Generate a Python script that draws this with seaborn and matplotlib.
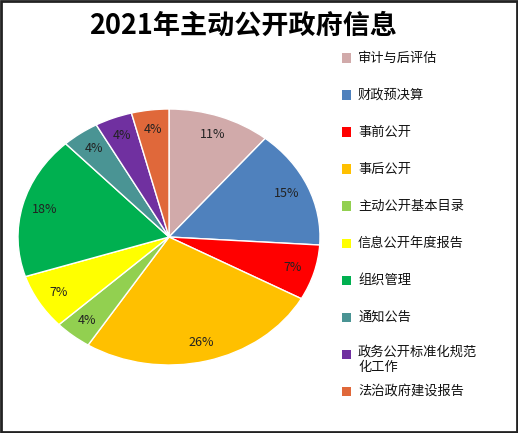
import matplotlib
matplotlib.use('Agg')
import matplotlib.pyplot as plt
import seaborn as sns
from matplotlib.patches import Rectangle

# Data
categories = ['审计与后评估', '财政预决算', '事前公开', '事后公开', '主动公开基本目录',
              '信息公开年度报告', '组织管理', '通知公告', '政务公开标准化规范\n化工作',
              '法治政府建设报告']
shares = [11, 15, 7, 26, 4, 7, 18, 4, 4, 4]
colors = ['#D1AAAA', '#4F81BD', '#FF0000', '#FFC000', '#92D050',
          '#FFFF00', '#00B050', '#4A9494', '#7030A0', '#E0683A']

sns.set_theme(style='white')
plt.rcParams['font.family'] = ['Noto Sans CJK SC', 'DejaVu Sans']

W, H = 518, 433
fig = plt.figure(figsize=(W / 100, H / 100), dpi=100)

# Pie (slightly squashed ellipse like the original)
ax = fig.add_axes([18 / W, 1 - 365 / H, 302 / W, 256 / H])
palette = sns.color_palette(colors)
wedges, texts, autotexts = ax.pie(shares, colors=palette, startangle=90, counterclock=False,
                                  autopct='%.0f%%', pctdistance=0.85,
                                  textprops=dict(fontsize=9, color='#222222'))
ax.set_aspect('auto')
ax.set_xlim(-1, 1)
ax.set_ylim(-1, 1)

# Title
fig.text(243 / W, 1 - 26 / H, '2021年主动公开政府信息', ha='center', va='center',
         fontsize=19.5, fontweight='bold', color='black')

# Legend drawn by hand so rows keep even spacing
for i, (lab, col) in enumerate(zip(categories, colors)):
    y = 58 + 37 * i
    fig.patches.append(Rectangle((342 / W, 1 - (y + 4.5) / H), 9 / W, 9 / H,
                                 transform=fig.transFigure, facecolor=col, edgecolor='none'))
    if '\n' in lab:
        fig.text(358 / W, 1 - (y - 8) / H, lab, ha='left', va='top', fontsize=9.5,
                 color='#111111', linespacing=1.2)
    else:
        fig.text(358 / W, 1 - y / H, lab, ha='left', va='center', fontsize=9.5, color='#111111')

# Dark frame around the whole picture
fig.patches.append(Rectangle((0.002, 0.002), 0.996, 0.996, transform=fig.transFigure,
                             fill=False, edgecolor='#222222', linewidth=2))

fig.savefig('out.png', dpi=100)
